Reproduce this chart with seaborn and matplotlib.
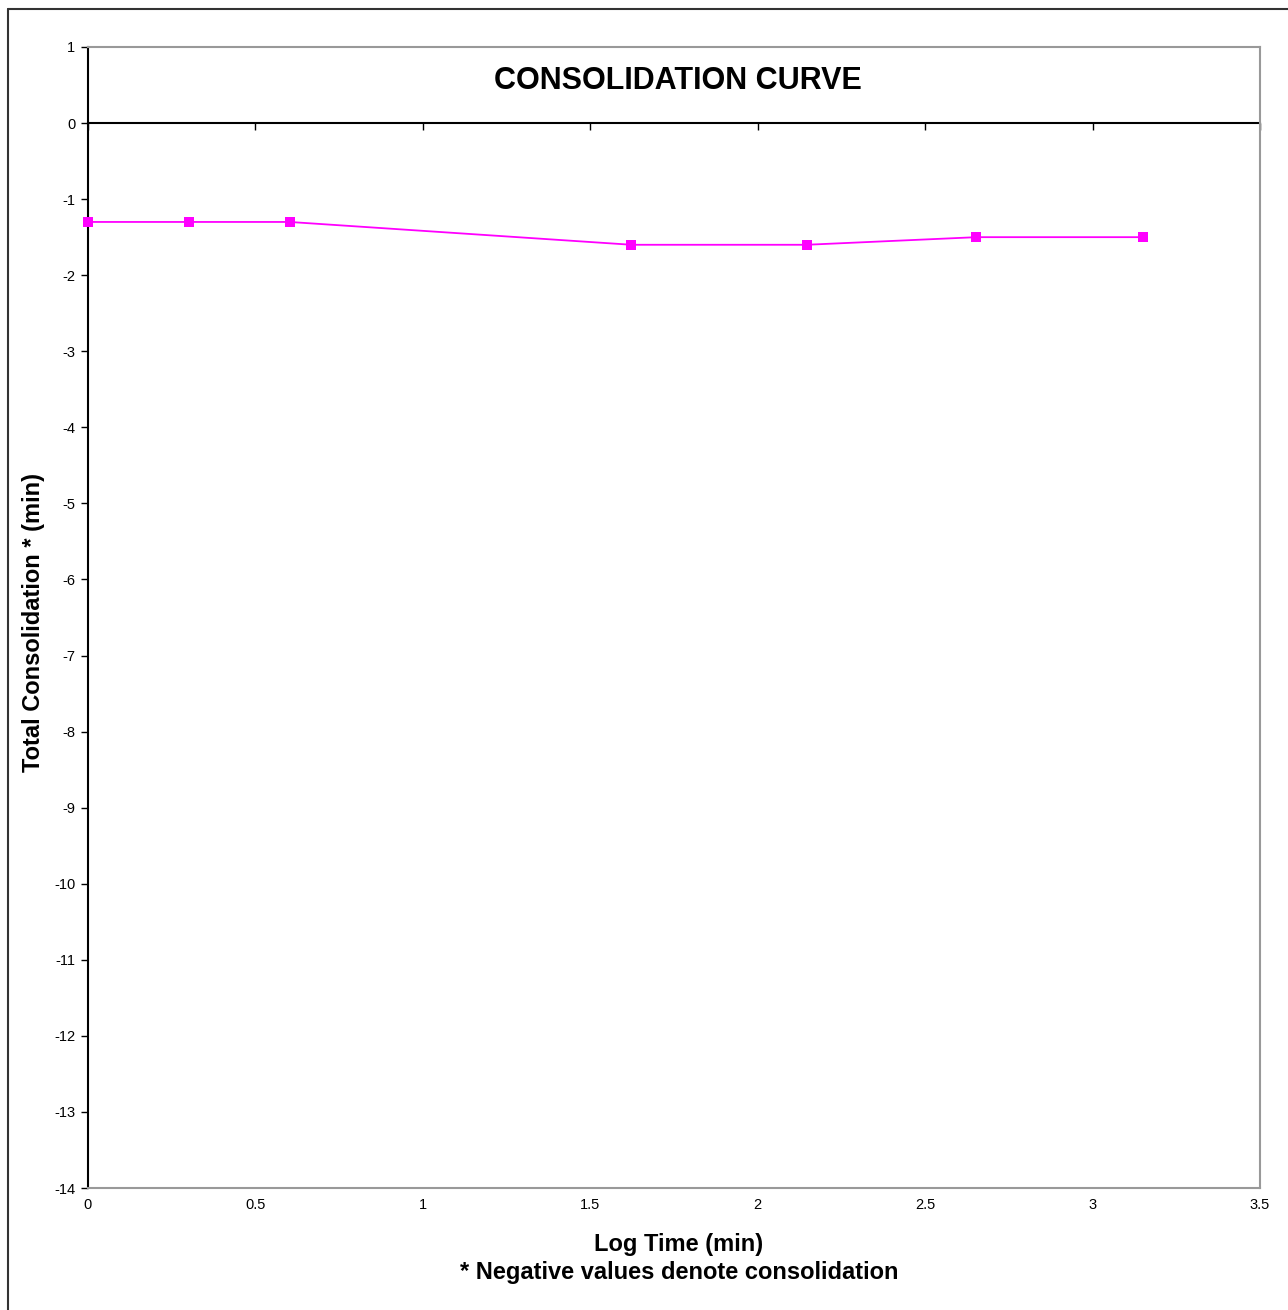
import matplotlib
matplotlib.use("Agg")
import matplotlib.pyplot as plt
import seaborn as sns
import pandas as pd
from matplotlib.lines import Line2D

# log10 of elapsed time (min) vs total consolidation
log_time = [0.0, 0.301, 0.602, 1.623, 2.146, 2.653, 3.152]
consolidation = [-1.3, -1.3, -1.3, -1.6, -1.6, -1.5, -1.5]
y_ticks = list(range(-14, 2))
x_ticks = [0, 0.5, 1, 1.5, 2, 2.5, 3, 3.5]
x_tick_labels = ["0", "0.5", "1", "1.5", "2", "2.5", "3", "3.5"]

df = pd.DataFrame({"logt": log_time, "cons": consolidation})

sns.set_style("white")
plt.rcParams["font.family"] = ["Liberation Sans", "DejaVu Sans"]
plt.rcParams["text.color"] = "black"
plt.rcParams["axes.labelcolor"] = "black"
plt.rcParams["xtick.color"] = "black"
plt.rcParams["ytick.color"] = "black"

fig = plt.figure(figsize=(12.88, 13.10), dpi=100)
ax = fig.add_axes([88 / 1288, 1 - 1188 / 1310, (1260 - 88) / 1288, (1188 - 47) / 1310])

sns.lineplot(data=df, x="logt", y="cons", ax=ax, color="#ff00ff", lw=1.3,
             marker="s", markersize=6.5, markeredgewidth=0, markerfacecolor="#ff00ff",
             clip_on=False, zorder=5)

ax.set_xlim(0, 3.5)
ax.set_ylim(-14, 1)
ax.set_yticks(y_ticks)
ax.set_yticklabels([str(v) for v in y_ticks], fontsize=10.5)
ax.set_xticks(x_ticks)
ax.set_xticklabels(x_tick_labels, fontsize=10.5)
ax.tick_params(axis="y", direction="out", length=5, width=1, color="black", left=True, pad=4)
ax.tick_params(axis="x", length=0, pad=7)
ax.set_xlabel("")
ax.set_ylabel("Total Consolidation * (min)", fontsize=17, fontweight="bold")
ax.yaxis.set_label_coords(-0.037, 0.496)

for s in ["top", "right", "bottom"]:
    ax.spines[s].set_color("#999999")
    ax.spines[s].set_linewidth(1.5)
ax.spines["left"].set_color("black")
ax.spines["left"].set_linewidth(1.5)

# x axis crossing at zero, ticks pointing down
sec = ax.secondary_xaxis(14 / 15)
sec.set_xticks(x_ticks)
sec.tick_params(axis="x", direction="in", length=5, width=1, color="black",
                labelbottom=False, labeltop=False)
for s in ["top", "bottom"]:
    sec.spines[s].set_color("black")
    sec.spines[s].set_linewidth(1.5)

fig.text(678 / 1288, 1 - 81 / 1310, "CONSOLIDATION CURVE", ha="center", va="center",
         fontsize=22, fontweight="bold")
fig.text(679 / 1288, 1 - 1244 / 1310, "Log Time (min)", ha="center", va="center",
         fontsize=17, fontweight="bold")
fig.text(679 / 1288, 1 - 1272 / 1310, "* Negative values denote consolidation", ha="center", va="center",
         fontsize=17, fontweight="bold")

# outer chart frame
fig.add_artist(Line2D([8 / 1288, 8 / 1288], [0, 1 - 9 / 1310], color="#333333", lw=1.5))
fig.add_artist(Line2D([8 / 1288, 1], [1 - 9 / 1310, 1 - 9 / 1310], color="#333333", lw=1.5))

fig.savefig("out.png", dpi=100, facecolor="white")
